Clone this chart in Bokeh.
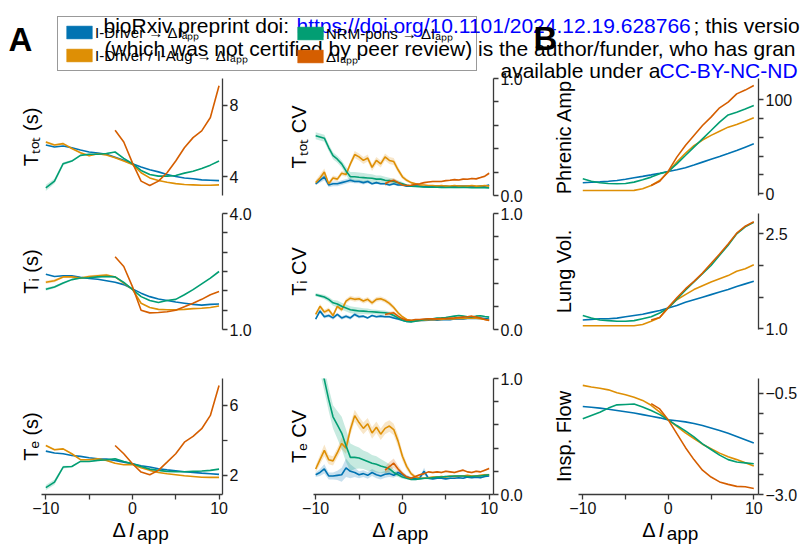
import numpy as np
from bokeh.plotting import figure
from bokeh.layouts import column, row
from bokeh.models import FixedTicker, Range1d, Label, Legend, LegendItem, LinearAxis
from bokeh.core.properties import value
from bokeh.embed import file_html
from bokeh.resources import INLINE

# ------------------------------------------------------------------ data
SERIES_NAMES = ["I-Driver → ΔIₐₚₚ", "I-Driver / I-Aug → ΔIₐₚₚ", "NRM-pons → ΔIₐₚₚ", "ΔIₐₚₚ"]
COLORS = ["#0173b2", "#de8f05", "#029e73", "#d55e00"]

X21 = [-10, -9, -8, -7, -6, -5, -4, -3, -2, -1, 0, 1, 2, 3, 4, 5, 6, 7, 8, 9, 10]
XR13 = [-2, -1, 0, 1, 2, 3, 4, 5, 6, 7, 8, 9, 10]
X41 = [-10.0, -9.5, -9.0, -8.5, -8.0, -7.5, -7.0, -6.5, -6.0, -5.5,
       -5.0, -4.5, -4.0, -3.5, -3.0, -2.5, -2.0, -1.5, -1.0, -0.5,
       0.0, 0.5, 1.0, 1.5, 2.0, 2.5, 3.0, 3.5, 4.0, 4.5,
       5.0, 5.5, 6.0, 6.5, 7.0, 7.5, 8.0, 8.5, 9.0, 9.5, 10.0]
XR25 = [-2.0, -1.5, -1.0, -0.5, 0.0, 0.5, 1.0, 1.5, 2.0, 2.5, 3.0, 3.5, 4.0,
        4.5, 5.0, 5.5, 6.0, 6.5, 7.0, 7.5, 8.0, 8.5, 9.0, 9.5, 10.0]

# T_tot (s)
TTOT_BLUE = [5.77, 5.66, 5.72, 5.62, 5.49, 5.38, 5.32, 5.25, 5.09, 4.91, 4.72, 4.53, 4.38, 4.26, 4.11, 4.00, 3.92, 3.87, 3.81, 3.79, 3.77]
TTOT_ORANGE = [5.94, 5.77, 5.85, 5.58, 5.34, 5.17, 5.28, 5.21, 5.06, 4.87, 4.68, 4.21, 3.92, 3.77, 3.68, 3.60, 3.55, 3.53, 3.51, 3.51, 3.53]
TTOT_GREEN = [3.36, 3.74, 4.72, 4.87, 5.19, 5.25, 5.25, 5.30, 5.38, 5.02, 4.72, 4.34, 4.11, 4.02, 4.02, 4.06, 4.19, 4.30, 4.45, 4.64, 4.87]
TTOT_RED = [6.60, 5.94, 4.77, 3.74, 3.49, 3.74, 4.21, 4.87, 5.62, 6.19, 6.57, 7.32, 9.11]
TTOT_ORANGE_CI = [0.08, 0.06, 0.06, 0.05, 0.05, 0.04, 0.04, 0.04, 0.03, 0.03, 0.02, 0.02, 0.02, 0.02, 0.02, 0.02, 0.02, 0.02, 0.02, 0.02, 0.02]
TTOT_GREEN_CI = [0.18, 0.14, 0.08, 0.06, 0.05, 0.04, 0.04, 0.04, 0.03, 0.03, 0.02, 0.02, 0.02, 0.02, 0.02, 0.02, 0.02, 0.02, 0.02, 0.02, 0.02]

# T_i (s)
TI_BLUE = [2.43, 2.37, 2.39, 2.39, 2.35, 2.32, 2.30, 2.26, 2.22, 2.16, 2.05, 1.94, 1.85, 1.79, 1.75, 1.71, 1.68, 1.65, 1.63, 1.65, 1.66]
TI_ORANGE = [2.22, 2.26, 2.36, 2.36, 2.33, 2.37, 2.39, 2.41, 2.36, 2.20, 2.04, 1.68, 1.57, 1.52, 1.51, 1.51, 1.52, 1.54, 1.55, 1.57, 1.61]
TI_GREEN = [2.04, 2.10, 2.20, 2.29, 2.33, 2.34, 2.36, 2.37, 2.36, 2.22, 2.04, 1.85, 1.75, 1.70, 1.75, 1.78, 1.90, 2.03, 2.18, 2.33, 2.50]
TI_RED = [2.88, 2.63, 2.11, 1.50, 1.43, 1.44, 1.46, 1.50, 1.59, 1.68, 1.78, 1.90, 1.98]
TI_ORANGE_CI = [0.04, 0.04, 0.03, 0.03, 0.03, 0.03, 0.03, 0.03, 0.02, 0.02, 0.01, 0.01, 0.01, 0.01, 0.01, 0.01, 0.01, 0.01, 0.01, 0.01, 0.01]
TI_GREEN_CI = [0.04, 0.03, 0.03, 0.02, 0.02, 0.02, 0.02, 0.02, 0.02, 0.02, 0.01, 0.01, 0.01, 0.01, 0.01, 0.01, 0.01, 0.01, 0.01, 0.01, 0.01]

# T_e (s)
TE_BLUE = [3.39, 3.28, 3.24, 3.14, 3.09, 3.01, 2.95, 2.93, 2.86, 2.76, 2.67, 2.55, 2.48, 2.38, 2.32, 2.27, 2.21, 2.17, 2.13, 2.10, 2.06]
TE_ORANGE = [3.71, 3.47, 3.52, 3.24, 2.90, 2.90, 2.95, 2.86, 2.70, 2.61, 2.63, 2.44, 2.29, 2.17, 2.10, 2.04, 1.98, 1.94, 1.90, 1.89, 1.89]
TE_GREEN = [1.30, 1.62, 2.48, 2.51, 2.80, 2.80, 2.86, 2.90, 2.95, 2.80, 2.67, 2.51, 2.36, 2.29, 2.23, 2.21, 2.21, 2.23, 2.25, 2.29, 2.36]
TE_RED = [3.71, 3.24, 2.67, 2.19, 2.04, 2.29, 2.76, 3.24, 3.90, 4.23, 4.67, 5.43, 7.14]
TE_ORANGE_CI = [0.06, 0.05, 0.05, 0.04, 0.04, 0.04, 0.03, 0.03, 0.03, 0.02, 0.02, 0.02, 0.02, 0.02, 0.02, 0.02, 0.02, 0.02, 0.02, 0.02, 0.02]
TE_GREEN_CI = [0.15, 0.15, 0.08, 0.05, 0.04, 0.03, 0.03, 0.03, 0.03, 0.02, 0.02, 0.02, 0.02, 0.02, 0.02, 0.02, 0.02, 0.02, 0.02, 0.02, 0.02]

# T_tot CV
CVTOT_BLUE = [0.10, 0.13, 0.16, 0.09, 0.10, 0.10, 0.11, 0.12, 0.13, 0.12,
              0.12, 0.11, 0.12, 0.10, 0.11, 0.10, 0.10, 0.09, 0.10, 0.09,
              0.09, 0.08, 0.08, 0.08, 0.08, 0.075, 0.08, 0.08, 0.08, 0.08,
              0.08, 0.075, 0.08, 0.08, 0.08, 0.08, 0.08, 0.075, 0.08, 0.08, 0.09]
CVTOT_ORANGE = [0.11, 0.15, 0.20, 0.10, 0.15, 0.14, 0.19, 0.18, 0.27, 0.35,
                0.33, 0.30, 0.32, 0.24, 0.30, 0.27, 0.33, 0.30, 0.29, 0.22,
                0.16, 0.13, 0.11, 0.10, 0.09, 0.09, 0.085, 0.085, 0.08, 0.085,
                0.08, 0.08, 0.085, 0.08, 0.08, 0.08, 0.085, 0.08, 0.08, 0.085, 0.08]
CVTOT_GREEN = [0.51, 0.50, 0.49, 0.41, 0.34, 0.31, 0.27, 0.21, 0.16, 0.16,
               0.156, 0.153, 0.15, 0.147, 0.14, 0.14, 0.13, 0.127, 0.12, 0.11,
               0.10, 0.087, 0.08, 0.078, 0.075, 0.072, 0.07, 0.07, 0.07, 0.068,
               0.068, 0.07, 0.068, 0.068, 0.07, 0.068, 0.066, 0.066, 0.068, 0.066, 0.065]
CVTOT_RED = [0.10, 0.12, 0.13, 0.11, 0.09, 0.085, 0.087, 0.095, 0.10, 0.11,
             0.115, 0.12, 0.12, 0.12, 0.127, 0.13, 0.136, 0.133, 0.14, 0.139,
             0.145, 0.142, 0.153, 0.165, 0.19]
CVTOT_BLUE_CI = [0.01, 0.02, 0.03, 0.02, 0.02, 0.02, 0.02, 0.02, 0.02, 0.015,
                 0.015, 0.015, 0.015, 0.01, 0.01, 0.01, 0.01, 0.01, 0.01, 0.01,
                 0.008, 0.006, 0.006, 0.005, 0.005, 0.005, 0.005, 0.005, 0.005, 0.005,
                 0.005, 0.005, 0.005, 0.005, 0.005, 0.005, 0.005, 0.005, 0.005, 0.005, 0.006]
CVTOT_ORANGE_CI = [0.02, 0.03, 0.03, 0.02, 0.02, 0.02, 0.02, 0.02, 0.025, 0.03,
                   0.03, 0.03, 0.03, 0.03, 0.03, 0.03, 0.03, 0.03, 0.03, 0.025,
                   0.02, 0.015, 0.01, 0.008, 0.006, 0.005, 0.005, 0.005, 0.005, 0.005,
                   0.005, 0.005, 0.005, 0.005, 0.005, 0.005, 0.005, 0.005, 0.005, 0.005, 0.005]
CVTOT_GREEN_CI = [0.03, 0.03, 0.03, 0.03, 0.03, 0.03, 0.03, 0.035, 0.04, 0.04,
                  0.04, 0.04, 0.035, 0.035, 0.03, 0.03, 0.03, 0.025, 0.02, 0.02,
                  0.015, 0.01, 0.008, 0.006, 0.005, 0.005, 0.005, 0.005, 0.005, 0.005,
                  0.005, 0.005, 0.005, 0.005, 0.005, 0.005, 0.005, 0.005, 0.005, 0.005, 0.005]
CVTOT_RED_CI = [0.02, 0.02, 0.02, 0.015, 0.01, 0.008, 0.006, 0.006, 0.006, 0.006,
                0.006, 0.006, 0.006, 0.006, 0.006, 0.006, 0.006, 0.006, 0.006, 0.006,
                0.006, 0.006, 0.007, 0.008, 0.01]

# T_i CV
CVI_BLUE = [0.09, 0.16, 0.11, 0.12, 0.10, 0.13, 0.10, 0.115, 0.10, 0.13,
            0.11, 0.115, 0.10, 0.12, 0.11, 0.115, 0.11, 0.11, 0.10, 0.09,
            0.08, 0.07, 0.07, 0.075, 0.08, 0.078, 0.08, 0.084, 0.08, 0.084,
            0.086, 0.084, 0.09, 0.09, 0.09, 0.095, 0.098, 0.095, 0.098, 0.095, 0.09]
CVI_ORANGE = [0.13, 0.20, 0.15, 0.17, 0.12, 0.20, 0.17, 0.245, 0.27, 0.26,
              0.265, 0.245, 0.26, 0.23, 0.26, 0.265, 0.25, 0.225, 0.19, 0.144,
              0.11, 0.086, 0.078, 0.075, 0.078, 0.08, 0.084, 0.084, 0.086, 0.086,
              0.09, 0.092, 0.092, 0.098, 0.095, 0.098, 0.10, 0.098, 0.092, 0.086, 0.08]
CVI_GREEN = [0.30, 0.29, 0.28, 0.26, 0.23, 0.22, 0.20, 0.185, 0.17, 0.165,
             0.16, 0.158, 0.155, 0.153, 0.15, 0.147, 0.144, 0.138, 0.12, 0.10,
             0.08, 0.07, 0.066, 0.072, 0.078, 0.084, 0.09, 0.092, 0.098, 0.10,
             0.104, 0.11, 0.115, 0.12, 0.115, 0.11, 0.107, 0.115, 0.118, 0.112, 0.107]
CVI_RED = [0.13, 0.138, 0.144, 0.115, 0.092, 0.08, 0.08, 0.086, 0.086, 0.09,
           0.092, 0.092, 0.092, 0.095, 0.095, 0.098, 0.10, 0.104, 0.107, 0.11,
           0.115, 0.107, 0.098, 0.086, 0.078]
CVI_BLUE_CI = [0.01, 0.02, 0.015, 0.015, 0.015, 0.015, 0.015, 0.015, 0.015, 0.015,
               0.015, 0.01, 0.01, 0.01, 0.01, 0.01, 0.01, 0.01, 0.01, 0.01,
               0.008, 0.006, 0.005, 0.005, 0.005, 0.005, 0.005, 0.005, 0.005, 0.005,
               0.005, 0.005, 0.005, 0.005, 0.005, 0.005, 0.005, 0.005, 0.005, 0.005, 0.005]
CVI_ORANGE_CI = [0.015, 0.02, 0.02, 0.02, 0.02, 0.02, 0.02, 0.02, 0.02, 0.02,
                 0.02, 0.02, 0.02, 0.02, 0.02, 0.02, 0.02, 0.02, 0.02, 0.015,
                 0.01, 0.008, 0.005, 0.005, 0.005, 0.005, 0.005, 0.005, 0.005, 0.005,
                 0.005, 0.005, 0.005, 0.005, 0.005, 0.005, 0.005, 0.005, 0.005, 0.005, 0.005]
CVI_GREEN_CI = [0.015, 0.015, 0.02, 0.02, 0.025, 0.03, 0.03, 0.03, 0.03, 0.03,
                0.03, 0.025, 0.025, 0.02, 0.02, 0.02, 0.02, 0.015, 0.015, 0.01,
                0.008, 0.006, 0.005, 0.005, 0.005, 0.005, 0.005, 0.005, 0.005, 0.005,
                0.005, 0.005, 0.005, 0.005, 0.005, 0.005, 0.005, 0.005, 0.005, 0.005, 0.005]
CVI_RED_CI = [0.015, 0.015, 0.015, 0.01, 0.008, 0.005, 0.005, 0.005, 0.005, 0.005,
              0.005, 0.005, 0.005, 0.005, 0.005, 0.005, 0.005, 0.005, 0.005, 0.005,
              0.005, 0.005, 0.005, 0.005, 0.005]

# T_e CV
CVE_BLUE = [0.17, 0.19, 0.22, 0.16, 0.16, 0.165, 0.17, 0.23, 0.20, 0.19,
            0.17, 0.18, 0.165, 0.19, 0.17, 0.16, 0.175, 0.18, 0.165, 0.19,
            0.17, 0.15, 0.14, 0.14, 0.145, 0.20, 0.14, 0.135, 0.14, 0.14,
            0.135, 0.14, 0.14, 0.145, 0.14, 0.15, 0.145, 0.15, 0.145, 0.155, 0.16]
CVE_ORANGE = [0.22, 0.30, 0.38, 0.30, 0.29, 0.36, 0.44, 0.40, 0.56, 0.68,
              0.62, 0.57, 0.61, 0.53, 0.58, 0.52, 0.57, 0.59, 0.56, 0.46,
              0.33, 0.24, 0.18, 0.15, 0.14, 0.14, 0.145, 0.15, 0.15, 0.155,
              0.15, 0.16, 0.155, 0.16, 0.16, 0.165, 0.16, 0.16, 0.165, 0.17, 0.17]
CVE_GREEN = [1.35, 1.15, 0.99, 0.82, 0.67, 0.60, 0.53, 0.42, 0.32, 0.32,
             0.315, 0.30, 0.285, 0.27, 0.26, 0.245, 0.235, 0.22, 0.19, 0.17,
             0.15, 0.14, 0.13, 0.13, 0.135, 0.14, 0.14, 0.145, 0.15, 0.15,
             0.155, 0.155, 0.16, 0.16, 0.16, 0.155, 0.155, 0.16, 0.16, 0.165, 0.17]
CVE_RED = [0.21, 0.24, 0.27, 0.22, 0.18, 0.15, 0.14, 0.155, 0.17, 0.18,
           0.195, 0.19, 0.195, 0.19, 0.20, 0.195, 0.19, 0.20, 0.21, 0.195,
           0.19, 0.20, 0.195, 0.21, 0.225]
CVE_BLUE_CI = [0.02, 0.03, 0.04, 0.03, 0.03, 0.04, 0.06, 0.08, 0.06, 0.04,
               0.03, 0.03, 0.03, 0.03, 0.03, 0.03, 0.03, 0.03, 0.02, 0.02,
               0.02, 0.015, 0.01, 0.01, 0.01, 0.03, 0.01, 0.008, 0.006, 0.006,
               0.006, 0.006, 0.006, 0.006, 0.006, 0.006, 0.006, 0.006, 0.006, 0.006, 0.006]
CVE_ORANGE_CI = [0.03, 0.04, 0.05, 0.04, 0.04, 0.04, 0.05, 0.05, 0.05, 0.05,
                 0.05, 0.05, 0.05, 0.05, 0.05, 0.05, 0.05, 0.05, 0.05, 0.05,
                 0.04, 0.03, 0.02, 0.015, 0.01, 0.008, 0.008, 0.008, 0.008, 0.008,
                 0.008, 0.008, 0.008, 0.008, 0.008, 0.008, 0.008, 0.008, 0.008, 0.008, 0.008]
CVE_GREEN_CI = [0.10, 0.10, 0.10, 0.10, 0.10, 0.12, 0.14, 0.14, 0.12, 0.10,
                0.09, 0.08, 0.08, 0.07, 0.07, 0.06, 0.05, 0.04, 0.03, 0.02,
                0.015, 0.01, 0.008, 0.008, 0.008, 0.008, 0.008, 0.008, 0.008, 0.008,
                0.008, 0.008, 0.008, 0.008, 0.008, 0.008, 0.008, 0.008, 0.008, 0.008, 0.008]
CVE_RED_CI = [0.03, 0.04, 0.04, 0.03, 0.02, 0.015, 0.01, 0.008, 0.008, 0.008,
              0.008, 0.008, 0.008, 0.008, 0.008, 0.008, 0.008, 0.008, 0.008, 0.008,
              0.008, 0.008, 0.008, 0.008, 0.01]

# Phrenic amplitude
PHR_BLUE = [11.7, 12.2, 12.7, 13.3, 14.1, 15.5, 17.0, 18.5, 20.1, 21.8, 23.7, 25.6, 27.6, 30.5, 33.6, 36.6, 39.6, 42.7, 45.9, 49.5, 53.0]
PHR_ORANGE = [3.5, 3.5, 3.5, 3.5, 3.5, 3.5, 3.6, 5.3, 8.8, 14.1, 23.0, 33.6, 43.0, 51.0, 57.0, 62.0, 66.4, 70.7, 73.5, 77.0, 80.6]
PHR_GREEN = [15.9, 13.4, 11.7, 11.0, 10.6, 11.0, 12.4, 14.8, 17.7, 21.2, 23.7, 31.8, 40.6, 49.5, 58.3, 67.1, 76.0, 83.7, 86.6, 90.0, 93.6]
PHR_RED = [8.8, 13.4, 24.0, 38.9, 51.2, 61.8, 72.4, 81.3, 91.2, 97.2, 106.0, 110.0, 114.8]

# Lung volume
LUNG_BLUE = [1.14, 1.15, 1.16, 1.16, 1.17, 1.19, 1.21, 1.23, 1.26, 1.29, 1.33, 1.37, 1.42, 1.46, 1.50, 1.54, 1.58, 1.62, 1.67, 1.71, 1.75]
LUNG_ORANGE = [1.05, 1.05, 1.05, 1.05, 1.05, 1.05, 1.05, 1.07, 1.12, 1.18, 1.33, 1.46, 1.54, 1.62, 1.68, 1.74, 1.79, 1.84, 1.91, 1.95, 2.01]
LUNG_GREEN = [1.21, 1.17, 1.14, 1.13, 1.12, 1.12, 1.13, 1.16, 1.19, 1.25, 1.33, 1.47, 1.61, 1.74, 1.87, 2.00, 2.16, 2.32, 2.50, 2.61, 2.68]
LUNG_RED = [1.14, 1.18, 1.34, 1.49, 1.63, 1.75, 1.88, 2.03, 2.18, 2.34, 2.51, 2.62, 2.69]

# Inspiratory flow
FLOW_BLUE = [-0.83, -0.85, -0.87, -0.90, -0.93, -0.96, -0.99, -1.03, -1.07, -1.11, -1.16, -1.18, -1.21, -1.25, -1.30, -1.36, -1.42, -1.49, -1.57, -1.65, -1.73]
FLOW_ORANGE = [-0.31, -0.35, -0.38, -0.42, -0.49, -0.54, -0.60, -0.68, -0.80, -0.97, -1.16, -1.32, -1.48, -1.62, -1.76, -1.87, -1.98, -2.07, -2.14, -2.22, -2.30]
FLOW_GREEN = [-1.13, -1.05, -0.97, -0.87, -0.79, -0.78, -0.77, -0.84, -0.93, -1.03, -1.16, -1.30, -1.43, -1.58, -1.75, -1.89, -2.03, -2.14, -2.20, -2.22, -2.24]
FLOW_RED = [-0.76, -0.89, -1.16, -1.50, -1.84, -2.14, -2.40, -2.57, -2.69, -2.75, -2.80, -2.81, -2.85]

X_MAJOR = [-10, 0, 10]
X_MINOR = [-5, 5]
X_LABELS = ["−10", "0", "10"]

HEADER = [
    ("bioRxiv preprint doi: ", 103, 25, "#000000"),
    ("https://doi.org/10.1101/2024.12.19.628766", 296, 25, "#0000ff"),
    ("; this versio", 693, 25, "#000000"),
    ("(which was not certified by peer review) is the author/funder, who has gran", 104, 47.5, "#000000"),
    ("available under a", 500, 69.5, "#000000"),
    ("CC-BY-NC-ND", 659, 69.5, "#0000ff"),
]

# ------------------------------------------------------------------ layout / style
FONT = "Liberation Sans"
AX_COLOR = "#3a3a3a"
TOP_H = 88
COLS = [
    dict(w=268, l=41, r=46, xr=(-10.5, 10.4), ystand=0, xlab=112),
    dict(w=268, l=45, r=43, xr=(-10.25, 10.5), ystand=4, xlab=371.7),
    dict(w=268, l=42, r=46, xr=(-10.5, 10.55), ystand=4, xlab=641.7),
]
ROWS = [dict(h=138, t=12, b=9), dict(h=136, t=9, b=11), dict(h=180, t=38, b=26)]

PANELS = [
    [
        dict(yr=(2.93, 9.52), major=[4, 8], minor=[6], labels=["4", "8"], ylab="Tₜₒₜ (s)",
             series=[(X21, TTOT_BLUE, None), (X21, TTOT_ORANGE, TTOT_ORANGE_CI),
                     (X21, TTOT_GREEN, TTOT_GREEN_CI), (XR13, TTOT_RED, None)]),
        dict(yr=(0.0, 1.0), major=[0.0, 1.0], minor=[0.2, 0.4, 0.6, 0.8], labels=["0.0", "1.0"],
             ylab="Tₜₒₜ CV",
             series=[(X41, CVTOT_BLUE, CVTOT_BLUE_CI), (X41, CVTOT_ORANGE, CVTOT_ORANGE_CI),
                     (X41, CVTOT_GREEN, CVTOT_GREEN_CI), (XR25, CVTOT_RED, CVTOT_RED_CI)]),
        dict(yr=(-1.8, 122.3), major=[0, 100], minor=[20, 40, 60, 80], labels=["0", "100"],
             ylab="Phrenic Amp",
             series=[(X21, PHR_BLUE, None), (X21, PHR_ORANGE, None),
                     (X21, PHR_GREEN, None), (XR13, PHR_RED, None)]),
    ],
    [
        dict(yr=(1.0, 4.0), major=[1.0, 4.0], minor=[1.5, 2.0, 2.5, 3.0, 3.5], labels=["1.0", "4.0"],
             ylab="Tᵢ (s)",
             series=[(X21, TI_BLUE, None), (X21, TI_ORANGE, TI_ORANGE_CI),
                     (X21, TI_GREEN, TI_GREEN_CI), (XR13, TI_RED, None)]),
        dict(yr=(0.0, 1.0), major=[0.0, 1.0], minor=[0.2, 0.4, 0.6, 0.8], labels=["0.0", "1.0"],
             ylab="Tᵢ CV",
             series=[(X41, CVI_BLUE, CVI_BLUE_CI), (X41, CVI_ORANGE, CVI_ORANGE_CI),
                     (X41, CVI_GREEN, CVI_GREEN_CI), (XR25, CVI_RED, CVI_RED_CI)]),
        dict(yr=(0.99, 2.82), major=[1.0, 2.5], minor=[1.5, 2.0], labels=["1.0", "2.5"],
             ylab="Lung Vol.",
             series=[(X21, LUNG_BLUE, None), (X21, LUNG_ORANGE, None),
                     (X21, LUNG_GREEN, None), (XR13, LUNG_RED, None)]),
    ],
    [
        dict(yr=(0.91, 7.54), major=[2, 6], minor=[4], labels=["2", "6"], ylab="Tₑ (s)",
             series=[(X21, TE_BLUE, None), (X21, TE_ORANGE, TE_ORANGE_CI),
                     (X21, TE_GREEN, TE_GREEN_CI), (XR13, TE_RED, None)]),
        dict(yr=(0.0, 1.0), major=[0.0, 1.0], minor=[0.2, 0.4, 0.6, 0.8], labels=["0.0", "1.0"],
             ylab="Tₑ CV",
             series=[(X41, CVE_BLUE, CVE_BLUE_CI), (X41, CVE_ORANGE, CVE_ORANGE_CI),
                     (X41, CVE_GREEN, CVE_GREEN_CI), (XR25, CVE_RED, CVE_RED_CI)]),
        dict(yr=(-3.0, -0.14), major=[-3.0, -0.5], minor=[-2.5, -2.0, -1.5, -1.0], labels=["−3.0", "−0.5"],
             ylab="Insp. Flow",
             series=[(X21, FLOW_BLUE, None), (X21, FLOW_ORANGE, None),
                     (X21, FLOW_GREEN, None), (XR13, FLOW_RED, None)]),
    ],
]


def style_axis(ax):
    ax.axis_line_color = AX_COLOR
    ax.axis_line_width = 1.3
    ax.major_tick_line_color = AX_COLOR
    ax.major_tick_line_width = 1.3
    ax.minor_tick_line_color = AX_COLOR
    ax.minor_tick_line_width = 1.3
    ax.major_tick_in = 0
    ax.major_tick_out = 5
    ax.minor_tick_in = 0
    ax.minor_tick_out = 5
    ax.major_label_text_font = FONT
    ax.major_label_text_font_size = "16px"
    ax.major_label_text_color = "#111111"
    ax.major_label_standoff = 2


def make_panel(ci, ri, spec):
    c = COLS[ci]
    r = ROWS[ri]
    p = figure(width=c["w"], height=r["h"], x_range=Range1d(*c["xr"]), y_range=Range1d(*spec["yr"]),
               output_backend="svg", toolbar_location=None,
               x_axis_location="below" if ri == 2 else None, y_axis_location="right",
               min_border_left=c["l"], min_border_right=c["r"],
               min_border_top=r["t"], min_border_bottom=r["b"],
               background_fill_color=None, border_fill_color=None, outline_line_color=None)
    p.grid.visible = False
    ya = p.yaxis[0]
    ya.ticker = FixedTicker(ticks=spec["major"], minor_ticks=spec["minor"])
    ya.major_label_overrides = dict(zip(spec["major"], spec["labels"]))
    style_axis(ya)
    if ri == 2:
        xa = p.xaxis[0]
        xa.ticker = FixedTicker(ticks=X_MAJOR, minor_ticks=X_MINOR)
        xa.major_label_overrides = dict(zip(X_MAJOR, X_LABELS))
        style_axis(xa)

    # y label on the left (an axis with no ticks)
    la = LinearAxis(ticker=FixedTicker(ticks=[]), axis_label=spec["ylab"],
                    axis_line_color=None, major_tick_line_color=None, minor_tick_line_color=None,
                    major_tick_out=0, major_tick_in=0, minor_tick_out=0, minor_tick_in=0,
                    major_label_text_font_size="0px", axis_label_standoff=c["ystand"],
                    axis_label_text_font=FONT, axis_label_text_font_size="20px",
                    axis_label_text_font_style="normal", axis_label_text_color="#000000")
    p.add_layout(la, "left")

    for k, (xs, ys, band) in enumerate(spec["series"]):
        if band is not None:
            yv = np.array(ys)
            bv = np.array(band)
            p.varea(x=xs, y1=yv - bv, y2=yv + bv, fill_color=COLORS[k], fill_alpha=0.22)
    for k, (xs, ys, band) in enumerate(spec["series"]):
        p.line(x=xs, y=ys, line_color=COLORS[k], line_width=1.6)
    return p


# ------------------------------------------------------------------ header figure
top = figure(width=804, height=TOP_H, x_range=Range1d(0, 804), y_range=Range1d(TOP_H, 0),
             output_backend="svg", toolbar_location=None, x_axis_location=None, y_axis_location=None,
             min_border=0, outline_line_color=None, background_fill_color=None,
             border_fill_color=None, margin=(0, 0, 66 - TOP_H, 0))
top.grid.visible = False

# legend swatches (renderers with a single NaN row: nothing is drawn on the canvas)
swatches = [top.quad(left=[np.nan], right=[np.nan], bottom=[np.nan], top=[np.nan],
                     fill_color=col, line_color=col, line_alpha=0.5)
            for col in COLORS]
common = dict(orientation="vertical", glyph_width=32, glyph_height=16, label_height=18, spacing=3,
              padding=5, label_standoff=0, margin=0, label_text_font=FONT,
              label_text_font_size="15px", label_text_color="#000000", border_line_width=1,
              background_fill_color="white", background_fill_alpha=0.0)
leg1 = Legend(items=[LegendItem(label=value(SERIES_NAMES[0]), renderers=[swatches[0]]),
                     LegendItem(label=value(SERIES_NAMES[1]), renderers=[swatches[1]])],
              location=(57, 17), label_width=376, border_line_color="#333333", **common)
leg2 = Legend(items=[LegendItem(label=value(SERIES_NAMES[2]), renderers=[swatches[2]]),
                     LegendItem(label=value(SERIES_NAMES[3]), renderers=[swatches[3]])],
              location=(289, 17), label_width=20, border_line_color="#333333", border_line_alpha=0.0,
              **common)
top.add_layout(leg1)
top.add_layout(leg2)

for txt, x, y, colr in HEADER:
    top.add_layout(Label(x=x, y=y, text=txt, text_align="left", text_baseline="alphabetic",
                         text_font=FONT, text_font_size="21px", text_color=colr, level="overlay"))
top.add_layout(Label(x=8, y=39, text="A", text_font=FONT, text_font_style="bold", text_color="#000000",
                     text_font_size="33px", text_baseline="alphabetic", level="overlay"))
top.add_layout(Label(x=533, y=38, text="B", text_font=FONT, text_font_style="bold", text_color="#000000",
                     text_font_size="33px", text_baseline="alphabetic", level="overlay"))

# ------------------------------------------------------------------ x-label strip
STRIP_H = 32
strip = figure(width=804, height=STRIP_H, x_range=Range1d(0, 804), y_range=Range1d(STRIP_H, 0),
               output_backend="svg", toolbar_location=None, x_axis_location=None, y_axis_location=None,
               min_border=0, outline_line_color=None, background_fill_color=None,
               border_fill_color=None)
strip.grid.visible = False
for c in COLS:
    for txt, dx, y, style, size in [("Δ", 0, 9, "normal", 20), ("I", 16.3, 9, "italic", 20),
                                    ("app", 24.5, 12.8, "normal", 19)]:
        strip.add_layout(Label(x=c["xlab"] + dx, y=y, text=txt, text_align="left",
                               text_baseline="alphabetic", text_font=FONT, text_font_style=style,
                               text_font_size=f"{size}px", text_color="#000000"))

rows = [row(*[make_panel(ci, ri, PANELS[ri][ci]) for ci in range(3)]) for ri in range(3)]
layout = column(top, *rows, strip)

with open("out.html", "w") as f:
    f.write(file_html(layout, INLINE))
